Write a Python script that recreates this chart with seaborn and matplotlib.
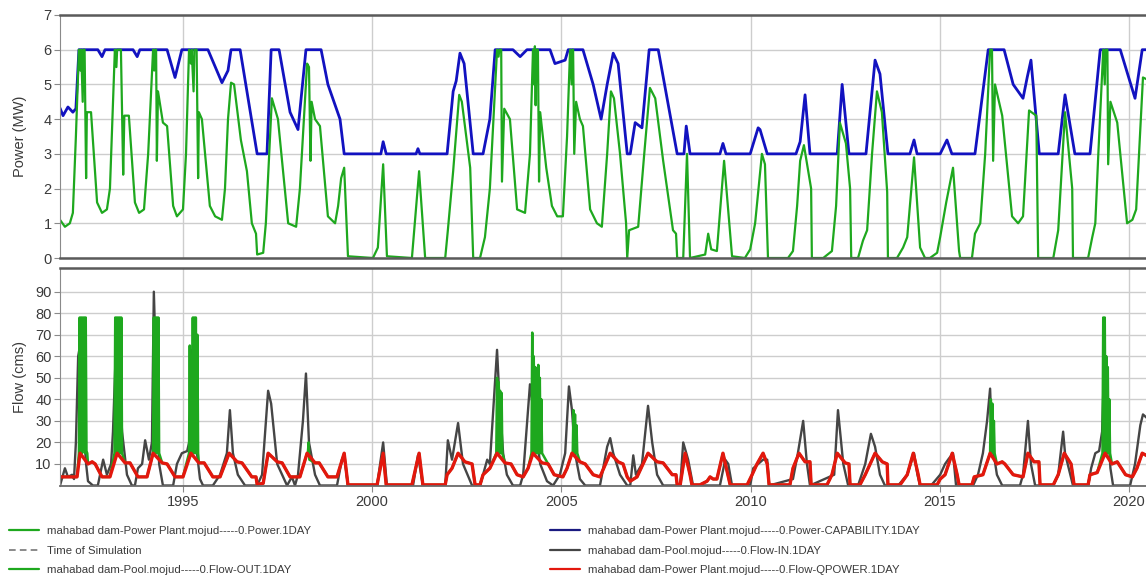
import matplotlib
matplotlib.use("Agg")
import matplotlib.pyplot as plt
from matplotlib.lines import Line2D
import pandas as pd
import seaborn as sns

# ---------------- power panel (MW) ----------------
cap_year = [1991.75, 1991.83, 1991.96, 1992.09, 1992.17, 1992.25, 1992.75, 1992.86, 1992.94,
            1993.68, 1993.79, 1993.86, 1994.58, 1994.79, 1994.97, 1995.66, 1996.03, 1996.19,
            1996.27, 1996.51, 1996.96, 1997.22, 1997.33, 1997.54, 1997.83, 1998.04, 1998.25,
            1998.65, 1998.83, 1999.15, 1999.26, 2000.23, 2000.29, 2000.37, 2001.16, 2001.21,
            2001.26, 2001.98, 2002.14, 2002.22, 2002.32, 2002.43, 2002.67, 2002.93, 2003.11,
            2003.25, 2003.72, 2003.91, 2004.09, 2004.70, 2004.83, 2005.10, 2005.18, 2005.57,
            2005.84, 2006.05, 2006.21, 2006.37, 2006.50, 2006.74, 2006.82, 2006.95, 2007.13,
            2007.32, 2007.56, 2008.06, 2008.24, 2008.30, 2008.40, 2009.19, 2009.27, 2009.35,
            2009.99, 2010.20, 2010.25, 2010.44, 2011.20, 2011.31, 2011.44, 2011.57, 2012.29,
            2012.42, 2012.60, 2013.05, 2013.29, 2013.42, 2013.63, 2014.21, 2014.32, 2014.40,
            2015.01, 2015.19, 2015.32, 2015.93, 2016.28, 2016.70, 2016.94, 2017.20, 2017.31,
            2017.41, 2017.63, 2018.13, 2018.31, 2018.57, 2018.97, 2019.24, 2019.77, 2020.16,
            2020.35, 2020.56]
cap_mw = [4.32, 4.1, 4.35, 4.2, 4.3, 6.0, 6.0, 5.8, 6.0,
          6.0, 5.8, 6.0, 6.0, 5.2, 6.0, 6.0, 5.05, 5.4,
          6.0, 6.0, 3.0, 3.0, 6.0, 6.0, 4.2, 3.7, 6.0,
          6.0, 5.0, 4.0, 3.0, 3.0, 3.35, 3.0, 3.0, 3.15,
          3.0, 3.0, 4.8, 5.1, 5.9, 5.6, 3.0, 3.0, 4.0,
          6.0, 6.0, 5.8, 6.0, 6.0, 5.6, 5.7, 6.0, 6.0,
          5.0, 4.0, 5.0, 5.9, 5.6, 3.0, 3.0, 3.9, 3.75,
          6.0, 6.0, 3.0, 3.0, 3.8, 3.0, 3.0, 3.3, 3.0,
          3.0, 3.75, 3.7, 3.0, 3.0, 3.35, 4.7, 3.0, 3.0,
          5.0, 3.0, 3.0, 5.7, 5.3, 3.0, 3.0, 3.4, 3.0,
          3.0, 3.4, 3.0, 3.0, 6.0, 6.0, 5.0, 4.6, 5.2,
          5.7, 3.0, 3.0, 4.7, 3.0, 3.0, 6.0, 6.0, 4.6,
          6.0, 6.0]

power_year = [1991.75, 1991.88, 1992.01, 1992.09, 1992.17, 1992.25, 1992.29, 1992.31, 1992.35,
              1992.37, 1992.40, 1992.44, 1992.46, 1992.57, 1992.73, 1992.86, 1992.99, 1993.07,
              1993.20, 1993.24, 1993.26, 1993.36, 1993.42, 1993.45, 1993.57, 1993.73, 1993.84,
              1993.97, 1994.08, 1994.21, 1994.24, 1994.26, 1994.29, 1994.31, 1994.34, 1994.47,
              1994.58, 1994.74, 1994.84, 1995.00, 1995.08, 1995.16, 1995.21, 1995.23, 1995.28,
              1995.30, 1995.36, 1995.40, 1995.42, 1995.50, 1995.71, 1995.85, 1996.03, 1996.11,
              1996.19, 1996.27, 1996.35, 1996.53, 1996.69, 1996.82, 1996.93, 1996.96, 1997.12,
              1997.19, 1997.35, 1997.51, 1997.78, 1997.99, 1998.09, 1998.28, 1998.33, 1998.37,
              1998.40, 1998.49, 1998.62, 1998.83, 1999.02, 1999.10, 1999.18, 1999.26, 1999.36,
              2000.02, 2000.15, 2000.29, 2000.39, 2001.05, 2001.24, 2001.40, 2001.93, 2002.00,
              2002.14, 2002.30, 2002.37, 2002.59, 2002.67, 2002.85, 2002.98, 2003.11, 2003.30,
              2003.34, 2003.36, 2003.41, 2003.43, 2003.49, 2003.64, 2003.83, 2004.04, 2004.17,
              2004.25, 2004.28, 2004.30, 2004.32, 2004.34, 2004.38, 2004.41, 2004.44, 2004.60,
              2004.75, 2004.89, 2005.04, 2005.15, 2005.23, 2005.27, 2005.29, 2005.31, 2005.34,
              2005.39, 2005.49, 2005.57, 2005.76, 2005.94, 2006.07, 2006.21, 2006.31, 2006.39,
              2006.55, 2006.71, 2006.74, 2006.79, 2007.03, 2007.19, 2007.34, 2007.48, 2007.69,
              2007.95, 2008.03, 2008.06, 2008.22, 2008.32, 2008.40, 2008.80, 2008.88, 2008.96,
              2009.11, 2009.30, 2009.51, 2009.85, 2009.99, 2010.12, 2010.30, 2010.38, 2010.46,
              2010.99, 2011.12, 2011.23, 2011.31, 2011.41, 2011.60, 2011.62, 2011.92, 2012.15,
              2012.26, 2012.36, 2012.52, 2012.63, 2012.66, 2012.84, 2012.97, 2013.08, 2013.21,
              2013.34, 2013.47, 2013.61, 2013.63, 2013.87, 2014.03, 2014.14, 2014.32, 2014.48,
              2014.61, 2014.74, 2014.93, 2015.01, 2015.17, 2015.35, 2015.51, 2015.54, 2015.85,
              2015.93, 2016.07, 2016.20, 2016.33, 2016.38, 2016.41, 2016.46, 2016.65, 2016.91,
              2017.07, 2017.20, 2017.36, 2017.55, 2017.60, 2018.00, 2018.13, 2018.31, 2018.50,
              2018.52, 2018.92, 2019.03, 2019.11, 2019.19, 2019.32, 2019.36, 2019.38, 2019.43,
              2019.45, 2019.51, 2019.69, 2019.95, 2020.09, 2020.19, 2020.37, 2020.56]
power_mw = [1.1, 0.9, 1.0, 1.3, 3.5, 6.0, 5.4, 6.0, 4.5,
            6.0, 6.0, 2.3, 4.2, 4.2, 1.6, 1.3, 1.4, 2.0,
            6.0, 5.5, 6.0, 6.0, 2.4, 4.1, 4.1, 1.6, 1.3,
            1.4, 3.0, 6.0, 5.4, 6.0, 6.0, 2.8, 4.8, 3.9,
            3.8, 1.5, 1.2, 1.4, 3.0, 6.0, 5.6, 6.0, 4.8,
            6.0, 6.0, 2.3, 4.2, 4.0, 1.5, 1.2, 1.1, 2.0,
            4.0, 5.05, 5.0, 3.4, 2.5, 1.0, 0.7, 0.1, 0.15,
            1.0, 4.6, 4.0, 1.0, 0.9, 2.0, 5.6, 5.5, 2.8,
            4.5, 4.0, 3.8, 1.2, 1.0, 1.5, 2.3, 2.6, 0.05,
            0.0, 0.3, 2.7, 0.05, 0.0, 2.5, 0.0, 0.0, 0.8,
            2.5, 4.7, 4.5, 2.6, 0.0, 0.0, 0.6, 2.0, 6.0,
            5.8, 6.0, 6.0, 2.2, 4.3, 4.0, 1.4, 1.3, 3.0,
            6.0, 5.0, 6.1, 4.4, 6.0, 6.0, 2.2, 4.2, 2.6,
            1.5, 1.2, 1.2, 3.5, 6.0, 5.0, 6.0, 6.0, 3.0,
            4.5, 4.0, 3.8, 1.4, 1.0, 0.9, 3.0, 4.8, 4.6,
            3.0, 1.0, 0.0, 0.8, 0.9, 3.0, 4.9, 4.6, 2.8,
            0.8, 0.7, 0.0, 0.0, 3.0, 0.0, 0.1, 0.7, 0.25,
            0.2, 2.8, 0.05, 0.0, 0.25, 1.0, 3.0, 2.7, 0.0,
            0.0, 0.2, 1.5, 2.8, 3.25, 2.0, 0.0, 0.0, 0.2,
            1.5, 3.9, 3.3, 2.0, 0.0, 0.0, 0.5, 0.8, 3.0,
            4.8, 4.2, 1.9, 0.0, 0.0, 0.3, 0.6, 2.9, 0.3,
            0.0, 0.0, 0.15, 0.6, 1.6, 2.6, 0.2, 0.0, 0.0,
            0.7, 1.0, 3.0, 6.0, 6.0, 2.8, 5.0, 4.1, 1.2,
            1.0, 1.2, 4.25, 4.1, 0.0, 0.0, 0.8, 4.2, 2.0,
            0.0, 0.0, 0.6, 1.0, 3.0, 6.0, 5.0, 6.0, 6.0,
            2.7, 4.5, 3.9, 1.0, 1.1, 1.4, 5.2, 5.1]

# ---------------- flow panel (cms) ----------------
inflow_year = [1991.75, 1991.88, 1991.96, 1992.07, 1992.12, 1992.17, 1992.23, 1992.31, 1992.36,
               1992.44, 1992.49, 1992.62, 1992.75, 1992.89, 1992.99, 1993.10, 1993.15, 1993.23,
               1993.28, 1993.39, 1993.52, 1993.65, 1993.73, 1993.81, 1993.92, 1994.00, 1994.10,
               1994.18, 1994.23, 1994.31, 1994.37, 1994.47, 1994.74, 1994.84, 1994.97, 1995.11,
               1995.19, 1995.24, 1995.29, 1995.37, 1995.45, 1995.53, 1995.79, 1995.98, 1996.16,
               1996.24, 1996.32, 1996.45, 1996.64, 1996.96, 1997.09, 1997.25, 1997.33, 1997.49,
               1997.75, 1997.88, 1997.96, 1998.04, 1998.17, 1998.25, 1998.33, 1998.49, 1998.62,
               1999.07, 1999.20, 1999.26, 1999.36, 2000.13, 2000.29, 2000.39, 2001.08, 2001.21,
               2001.34, 2001.93, 2002.00, 2002.11, 2002.27, 2002.40, 2002.64, 2002.85, 2003.04,
               2003.11, 2003.30, 2003.35, 2003.46, 2003.56, 2003.72, 2003.91, 2003.99, 2004.17,
               2004.44, 2004.62, 2004.78, 2004.96, 2005.10, 2005.20, 2005.28, 2005.36, 2005.49,
               2005.63, 2006.02, 2006.21, 2006.29, 2006.37, 2006.55, 2006.74, 2006.82, 2006.90,
               2006.97, 2007.13, 2007.29, 2007.40, 2007.53, 2007.69, 2008.14, 2008.22, 2008.30,
               2008.35, 2008.48, 2009.19, 2009.33, 2009.41, 2009.51, 2009.99, 2010.07, 2010.20,
               2010.33, 2010.44, 2010.49, 2011.12, 2011.25, 2011.39, 2011.49, 2011.57, 2012.21,
               2012.31, 2012.45, 2012.58, 2012.84, 2013.03, 2013.18, 2013.29, 2013.42, 2013.55,
               2013.90, 2014.14, 2014.32, 2014.41, 2014.48, 2014.77, 2015.01, 2015.14, 2015.22,
               2015.35, 2015.43, 2015.88, 2016.01, 2016.14, 2016.25, 2016.33, 2016.38, 2016.51,
               2016.65, 2017.12, 2017.20, 2017.33, 2017.41, 2017.52, 2018.00, 2018.13, 2018.26,
               2018.31, 2018.45, 2018.52, 2018.92, 2019.00, 2019.11, 2019.21, 2019.29, 2019.34,
               2019.43, 2019.51, 2019.58, 2020.03, 2020.16, 2020.30, 2020.37, 2020.56]
inflow_cms = [0, 8, 4, 5, 3, 20, 60, 68, 30,
              10, 2, 0, 0, 12, 5, 10, 25, 65,
              60, 25, 5, 0, 0, 8, 10, 21, 12,
              20, 90, 40, 10, 0, 0, 10, 15, 16,
              22, 63, 40, 15, 3, 0, 0, 5, 15,
              35, 15, 5, 0, 0, 5, 44, 38, 10,
              0, 4, 0, 5, 30, 52, 20, 5, 0,
              0, 12, 14, 0, 0, 20, 0, 0, 14,
              0, 0, 21, 12, 29, 10, 0, 0, 12,
              10, 63, 45, 15, 5, 0, 0, 5, 47,
              10, 2, 0, 5, 15, 46, 35, 15, 3,
              0, 0, 18, 22, 15, 5, 0, 0, 14,
              5, 10, 37, 20, 5, 0, 0, 20, 15,
              12, 0, 0, 12, 10, 0, 0, 8, 10,
              12, 12, 0, 3, 15, 30, 10, 0, 5,
              35, 10, 0, 0, 10, 24, 18, 5, 0,
              0, 5, 15, 5, 0, 0, 5, 10, 12,
              15, 0, 0, 5, 15, 30, 45, 20, 5,
              0, 0, 5, 30, 10, 0, 0, 5, 25,
              15, 5, 0, 0, 8, 15, 16, 25, 55,
              30, 8, 0, 0, 10, 28, 33, 30]

qpower_year = [1991.75, 1992.20, 1992.28, 1992.49, 1992.60, 1992.68, 1992.86, 1993.07, 1993.26,
               1993.47, 1993.60, 1993.81, 1994.05, 1994.21, 1994.45, 1994.58, 1994.79, 1995.00,
               1995.21, 1995.42, 1995.56, 1995.79, 1995.98, 1996.22, 1996.43, 1996.56, 1996.82,
               1996.93, 1996.96, 1997.12, 1997.25, 1997.49, 1997.62, 1997.83, 1998.09, 1998.28,
               1998.49, 1998.60, 1998.83, 1999.07, 1999.26, 1999.36, 2000.13, 2000.29, 2000.37,
               2001.05, 2001.24, 2001.34, 2001.93, 2001.98, 2002.11, 2002.27, 2002.45, 2002.64,
               2002.72, 2002.85, 2002.93, 2003.11, 2003.30, 2003.51, 2003.67, 2003.83, 2003.99,
               2004.12, 2004.25, 2004.49, 2004.65, 2004.81, 2005.04, 2005.15, 2005.28, 2005.49,
               2005.63, 2005.84, 2006.02, 2006.29, 2006.50, 2006.63, 2006.74, 2006.82, 2007.00,
               2007.29, 2007.53, 2007.69, 2007.93, 2008.03, 2008.06, 2008.14, 2008.27, 2008.40,
               2008.45, 2008.66, 2008.85, 2008.93, 2009.01, 2009.11, 2009.27, 2009.46, 2009.91,
               2010.04, 2010.17, 2010.33, 2010.44, 2010.49, 2011.04, 2011.12, 2011.28, 2011.44,
               2011.57, 2011.60, 2012.02, 2012.15, 2012.29, 2012.50, 2012.60, 2012.63, 2012.89,
               2013.03, 2013.16, 2013.29, 2013.48, 2013.61, 2013.63, 2013.95, 2014.14, 2014.30,
               2014.43, 2014.48, 2014.93, 2015.01, 2015.14, 2015.33, 2015.46, 2015.51, 2015.85,
               2015.91, 2016.14, 2016.33, 2016.51, 2016.65, 2016.72, 2016.94, 2017.20, 2017.33,
               2017.49, 2017.62, 2017.65, 2018.00, 2018.13, 2018.29, 2018.47, 2018.55, 2018.92,
               2018.97, 2019.16, 2019.37, 2019.55, 2019.69, 2019.91, 2020.09, 2020.21, 2020.35,
               2020.56]
qpower_cms = [4, 4, 15, 10, 11, 10, 4, 4, 15,
              10.5, 10.5, 4, 4, 15, 10.5, 10, 4, 4,
              15, 10.5, 10.5, 4, 4, 15, 11, 10.5, 4,
              4, 0.5, 1, 15, 11, 10.5, 4, 4, 15,
              10.5, 10.5, 4, 4, 15, 0.3, 0.3, 15, 0.3,
              0.3, 15, 0.3, 0.3, 5, 8, 15, 11, 10,
              0.3, 0.3, 5, 8, 15, 10.5, 10, 5, 4,
              8, 15, 10.5, 10, 5, 4, 8, 15, 11,
              10, 5, 4, 15, 11, 10, 4, 2, 4,
              15, 11, 10.5, 5, 5, 0.3, 0.3, 15, 5,
              0.3, 0.3, 2, 4, 3, 3, 15, 0.3, 0.3,
              5, 10, 15, 10, 0.3, 0.3, 8, 15, 11,
              11, 0.3, 0.3, 5, 15, 10.5, 10, 0.3, 0.3,
              5, 10, 15, 11, 10, 0.3, 0.3, 5, 15,
              5, 0.3, 0.3, 3, 5, 15, 5, 0.3, 0.3,
              4, 5, 15, 10, 11, 10, 5, 4, 15,
              11, 11, 0.3, 0.3, 5, 15, 10, 0.3, 0.3,
              5, 6, 15, 10, 11, 5, 4, 8, 15,
              13]

# spill periods where Flow-OUT jumps far above the turbine flow
spill_year = [
    [1992.25, 1992.27, 1992.29, 1992.31, 1992.33, 1992.35, 1992.37, 1992.39, 1992.41, 1992.43, 1992.45, 1992.47],
    [1993.19, 1993.21, 1993.23, 1993.25, 1993.27, 1993.29, 1993.31, 1993.33, 1993.35, 1993.37, 1993.39],
    [1994.21, 1994.23, 1994.25, 1994.27, 1994.29, 1994.31, 1994.33, 1994.35, 1994.37],
    [1995.16, 1995.18, 1995.20, 1995.22, 1995.24, 1995.26, 1995.28, 1995.30, 1995.32, 1995.34, 1995.36, 1995.38, 1995.40],
    [1998.30, 1998.32, 1998.34],
    [2003.28, 2003.30, 2003.32, 2003.34, 2003.36, 2003.38, 2003.40, 2003.42, 2003.44],
    [2004.21, 2004.23, 2004.25, 2004.27, 2004.29, 2004.31, 2004.33, 2004.35, 2004.37, 2004.39, 2004.41, 2004.43, 2004.45, 2004.47, 2004.49],
    [2005.30, 2005.32, 2005.34, 2005.36, 2005.38, 2005.40, 2005.42],
    [2016.33, 2016.35, 2016.37, 2016.39, 2016.41, 2016.43, 2016.45],
    [2019.30, 2019.32, 2019.34, 2019.36, 2019.38, 2019.40, 2019.42, 2019.44, 2019.46, 2019.48, 2019.50],
]
spill_cms = [
    [15, 78, 16, 78, 15, 78, 17, 78, 15, 78, 16, 15],
    [15, 78, 15, 78, 15, 78, 15, 78, 15, 78, 15],
    [15, 78, 15, 78, 15, 78, 15, 78, 15],
    [15, 65, 15, 60, 15, 78, 15, 78, 15, 78, 15, 70, 15],
    [15, 20, 12],
    [15, 50, 15, 48, 15, 44, 15, 43, 15],
    [15, 71, 15, 60, 15, 55, 15, 45, 15, 56, 15, 50, 15, 40, 15],
    [15, 35, 15, 33, 15, 28, 15],
    [15, 40, 15, 38, 15, 30, 15],
    [15, 78, 15, 78, 15, 60, 15, 55, 15, 40, 15],
]

labels_left = ["mahabad dam-Power Plant.mojud-----0.Power.1DAY",
               "Time of Simulation",
               "mahabad dam-Pool.mojud-----0.Flow-OUT.1DAY"]
labels_right = ["mahabad dam-Power Plant.mojud-----0.Power-CAPABILITY.1DAY",
                "mahabad dam-Pool.mojud-----0.Flow-IN.1DAY",
                "mahabad dam-Power Plant.mojud-----0.Flow-QPOWER.1DAY"]

GREEN = "#1ea81e"
BLUE = "#1212c0"
GREY = "#454545"
RED = "#e3170d"
TXT = "#3a3a3a"

sns.set_style("whitegrid", {"grid.color": "#cdcdcd", "axes.edgecolor": "#8a8a8a"})
plt.rcParams["font.family"] = ["Liberation Sans", "DejaVu Sans"]

# outflow = turbine flow, replaced by spill values inside each spill window
out = pd.DataFrame({"year": qpower_year, "cms": qpower_cms})
for yrs, vals in zip(spill_year, spill_cms):
    out = out[(out["year"] < yrs[0]) | (out["year"] > yrs[-1])]
    out = pd.concat([out, pd.DataFrame({"year": yrs, "cms": vals})])
out = out.sort_values("year")

fig = plt.figure(figsize=(11.46, 5.79), dpi=100)
ax1 = fig.add_axes([60 / 1146, 1 - 258 / 579, 1 - 60 / 1146, 243 / 579])
ax2 = fig.add_axes([60 / 1146, 1 - 485.5 / 579, 1 - 60 / 1146, 217.5 / 579])

sns.lineplot(x=cap_year, y=cap_mw, ax=ax1, color=BLUE, linewidth=2.0, estimator=None, sort=False)
sns.lineplot(x=power_year, y=power_mw, ax=ax1, color=GREEN, linewidth=1.6, estimator=None, sort=False)

sns.lineplot(x=inflow_year, y=inflow_cms, ax=ax2, color=GREY, linewidth=1.7, estimator=None, sort=False)
sns.lineplot(data=out, x="year", y="cms", ax=ax2, color=GREEN, linewidth=1.8, estimator=None, sort=False)
sns.lineplot(x=qpower_year, y=qpower_cms, ax=ax2, color=RED, linewidth=2.4, estimator=None, sort=False)

xmin, xmax = 1991.75, 2020.45
for ax in (ax1, ax2):
    ax.set_xlim(xmin, xmax)
    ax.set_xticks([1995, 2000, 2005, 2010, 2015, 2020])
    ax.grid(True, color="#cdcdcd", linewidth=1.0)
    ax.set_xlabel("")
    ax.spines["right"].set_visible(False)
    ax.spines["left"].set_color("#8a8a8a")
    ax.spines["top"].set_color("#5a5a5a")
    ax.spines["top"].set_linewidth(1.8)
    ax.tick_params(axis="y", left=True, length=4, color="#8a8a8a", labelsize=10.5,
                   labelcolor=TXT, pad=2)

ax1.set_ylim(0, 7)
ax1.set_yticks(range(0, 8))
ax1.spines["bottom"].set_color("#5a5a5a")
ax1.spines["bottom"].set_linewidth(1.8)
ax1.tick_params(axis="x", bottom=False, labelbottom=False)
ax1.set_ylabel("Power (MW)", fontsize=10.5, color=TXT)
ax1.yaxis.set_label_coords(-0.03, 0.5)

ax2.set_ylim(0, 101)
ax2.set_yticks(range(10, 100, 10))
ax2.spines["bottom"].set_color("#6a6a6a")
ax2.spines["bottom"].set_linewidth(1.3)
ax2.tick_params(axis="x", bottom=True, length=4, color="#8a8a8a", labelsize=10.5,
                labelcolor=TXT, pad=3)
ax2.set_ylabel("Flow (cms)", fontsize=10.5, color=TXT)
ax2.yaxis.set_label_coords(-0.03, 0.5)

h_left = [Line2D([], [], color=GREEN, lw=1.6),
          Line2D([], [], color="#777777", lw=1.2, ls=(0, (4, 2.5))),
          Line2D([], [], color=GREEN, lw=1.6)]
h_right = [Line2D([], [], color="#1a1a80", lw=1.6),
           Line2D([], [], color=GREY, lw=1.6),
           Line2D([], [], color=RED, lw=1.6)]
leg_kw = dict(loc="upper left", frameon=False, fontsize=8.2, handlelength=2.6,
              handletextpad=0.75, labelspacing=0.85, borderpad=0, borderaxespad=0,
              labelcolor=TXT)
fig.legend(h_left, labels_left, bbox_to_anchor=(9 / 1146, 1 - 526 / 579), **leg_kw)
fig.legend(h_right, labels_right, bbox_to_anchor=(550 / 1146, 1 - 526 / 579), **leg_kw)

fig.savefig("out.png", dpi=100)
